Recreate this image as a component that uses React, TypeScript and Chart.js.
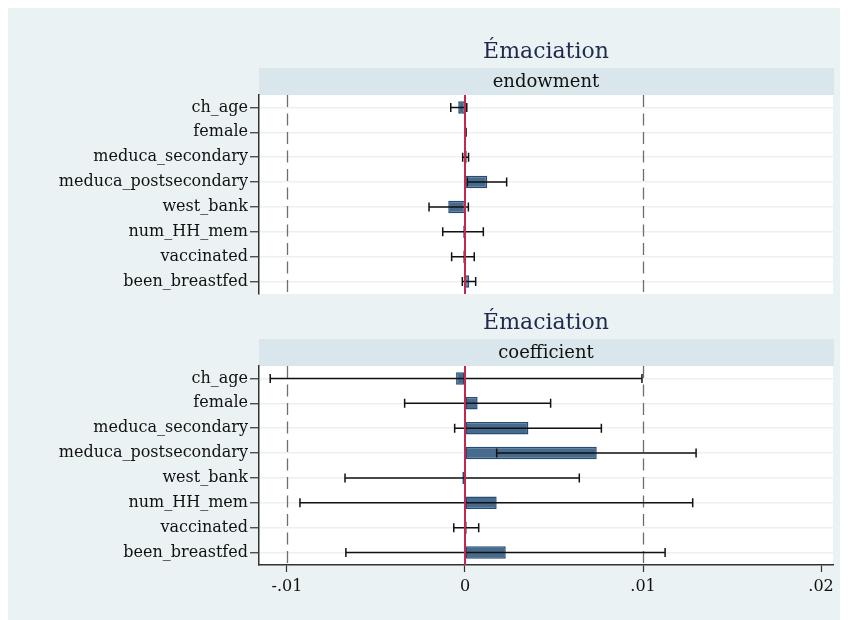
import React, { useEffect, useRef } from "react";
import { Chart, registerables } from "chart.js";

Chart.register(...registerables);

const categories = [
  "ch_age",
  "female",
  "meduca_secondary",
  "meduca_postsecondary",
  "west_bank",
  "num_HH_mem",
  "vaccinated",
  "been_breastfed",
];

const endowmentValues = [-0.00038, 0.00003, 0.0001, 0.00125, -0.00094, -0.0001, -0.0001, 0.00024];
const endowmentLow = [-0.0008, -0.00001, -0.00013, 0.00013, -0.00202, -0.00125, -0.00075, -0.00015];
const endowmentHigh = [0.0001, 0.00006, 0.0002, 0.00234, 0.00019, 0.00103, 0.00052, 0.0006];

const coefValues = [-0.0005, 0.00071, 0.00356, 0.0074, -0.00015, 0.00178, 0.0001, 0.00229];
const coefLow = [-0.01094, -0.00339, -0.00058, 0.00178, -0.00674, -0.00927, -0.00063, -0.00669];
const coefHigh = [0.00994, 0.00481, 0.00766, 0.01298, 0.00642, 0.01279, 0.00077, 0.01124];

const xTickValues = [-0.01, 0, 0.01, 0.02];
const xTickLabels = ["-.01", "0", ".01", ".02"];
const refLines = [-0.01, 0.01];
const zeroLine = 0;
const xMin = -0.01157;
const xMax = 0.02067;

const panelTitle = "Émaciation";
const panelNames = ["endowment", "coefficient"];

const SERIF = '"DejaVu Serif", serif';

function makeChart(
  canvas: HTMLCanvasElement,
  values: number[],
  low: number[],
  high: number[],
  name: string,
  showX: boolean
) {
  const panelPlugin = {
    id: "panelDecor",
    beforeDraw(chart: any) {
      const { ctx, chartArea } = chart;
      const { left, right, top, bottom } = chartArea;
      ctx.save();
      ctx.fillStyle = "#ffffff";
      ctx.fillRect(left, top, right - left, bottom - top);
      ctx.fillStyle = "#d9e6eb";
      ctx.fillRect(left, top - 27, right - left + 1, 27);
      ctx.fillStyle = "#111111";
      ctx.font = `18px ${SERIF}`;
      ctx.textAlign = "center";
      ctx.textBaseline = "alphabetic";
      ctx.fillText(name, (left + right) / 2, top - 8);
      ctx.fillStyle = "#1e2b4f";
      ctx.font = `22px ${SERIF}`;
      ctx.fillText(panelTitle, (left + right) / 2, top - 37);
      ctx.restore();
    },
    beforeDatasetsDraw(chart: any) {
      const { ctx, chartArea, scales } = chart;
      ctx.save();
      ctx.strokeStyle = "#6e6e6e";
      ctx.lineWidth = 1.3;
      ctx.setLineDash([12, 6.5]);
      refLines.forEach((v) => {
        const x = Math.round(scales.x.getPixelForValue(v)) + 0.5;
        ctx.beginPath();
        ctx.moveTo(x, chartArea.top);
        ctx.lineTo(x, chartArea.bottom);
        ctx.stroke();
      });
      ctx.restore();
    },
    afterDatasetsDraw(chart: any) {
      const { ctx, chartArea, scales } = chart;
      ctx.save();
      ctx.strokeStyle = "#111111";
      ctx.lineWidth = 1.5;
      const cap = 4.5;
      categories.forEach((c, i) => {
        const y = scales.y.getPixelForValue(i);
        const x1 = scales.x.getPixelForValue(low[i]);
        const x2 = scales.x.getPixelForValue(high[i]);
        ctx.beginPath();
        ctx.moveTo(x1, y);
        ctx.lineTo(x2, y);
        ctx.moveTo(x1, y - cap);
        ctx.lineTo(x1, y + cap);
        ctx.moveTo(x2, y - cap);
        ctx.lineTo(x2, y + cap);
        ctx.stroke();
      });
      const zx = scales.x.getPixelForValue(zeroLine);
      ctx.strokeStyle = "#c4284f";
      ctx.lineWidth = 2;
      ctx.beginPath();
      ctx.moveTo(zx, chartArea.top);
      ctx.lineTo(zx, chartArea.bottom);
      ctx.stroke();
      ctx.restore();
    },
  };

  return new Chart(canvas, {
    type: "bar",
    data: {
      labels: categories,
      datasets: [
        {
          data: values,
          backgroundColor: "#476b8d",
          borderColor: "#274c73",
          borderWidth: 1.5,
          borderSkipped: false,
          barPercentage: 0.5,
          categoryPercentage: 1,
        },
      ],
    },
    options: {
      indexAxis: "y",
      responsive: false,
      animation: false,
      layout: {
        padding: showX
          ? { top: 58, right: 15, bottom: 13, left: 0 }
          : { top: 87, right: 15, bottom: 14, left: 0 },
      },
      plugins: {
        legend: { display: false },
        tooltip: { enabled: false },
        title: { display: false },
      },
      scales: {
        x: {
          type: "linear",
          min: xMin,
          max: xMax,
          display: showX,
          afterBuildTicks: (scale: any) => {
            scale.ticks = xTickValues.map((v) => ({ value: v }));
          },
          afterFit: (scale: any) => {
            scale.height = showX ? 42 : 0;
          },
          ticks: {
            autoSkip: false,
            maxRotation: 0,
            padding: 5,
            color: "#111111",
            font: { family: SERIF, size: 16 },
            callback: (v: any) => {
              const idx = xTickValues.findIndex((t) => Math.abs(t - Number(v)) < 1e-9);
              return idx >= 0 ? xTickLabels[idx] : "";
            },
          },
          grid: {
            drawOnChartArea: false,
            drawTicks: true,
            tickLength: 7,
            tickColor: "#333333",
            tickWidth: 1.2,
          },
          border: { display: true, color: "#333333", width: 1.5 },
        },
        y: {
          type: "category",
          afterFit: (scale: any) => {
            scale.width = 251;
          },
          ticks: {
            autoSkip: false,
            padding: 2,
            color: "#111111",
            font: { family: SERIF, size: 16 },
          },
          grid: {
            offset: false,
            color: "#e9f1f3",
            lineWidth: 1.5,
            tickColor: "#333333",
            tickLength: 9,
            tickWidth: 1.2,
          },
          border: { display: true, color: "#333333", width: 1.5 },
        },
      },
    },
    plugins: [panelPlugin],
  } as any);
}

export default function App() {
  const ref1 = useRef<HTMLCanvasElement>(null);
  const ref2 = useRef<HTMLCanvasElement>(null);

  useEffect(() => {
    const c1 = makeChart(ref1.current!, endowmentValues, endowmentLow, endowmentHigh, panelNames[0], false);
    const c2 = makeChart(ref2.current!, coefValues, coefLow, coefHigh, panelNames[1], true);
    return () => {
      c1.destroy();
      c2.destroy();
    };
  }, []);

  return (
    <div
      style={{
        position: "relative",
        width: 840,
        height: 612,
        background: "#eaf2f3",
      }}
    >
      <canvas
        ref={ref1}
        width={840}
        height={300}
        style={{ position: "absolute", left: 0, top: 0, width: 840, height: 300 }}
      />
      <canvas
        ref={ref2}
        width={840}
        height={312}
        style={{ position: "absolute", left: 0, top: 300, width: 840, height: 312 }}
      />
    </div>
  );
}
